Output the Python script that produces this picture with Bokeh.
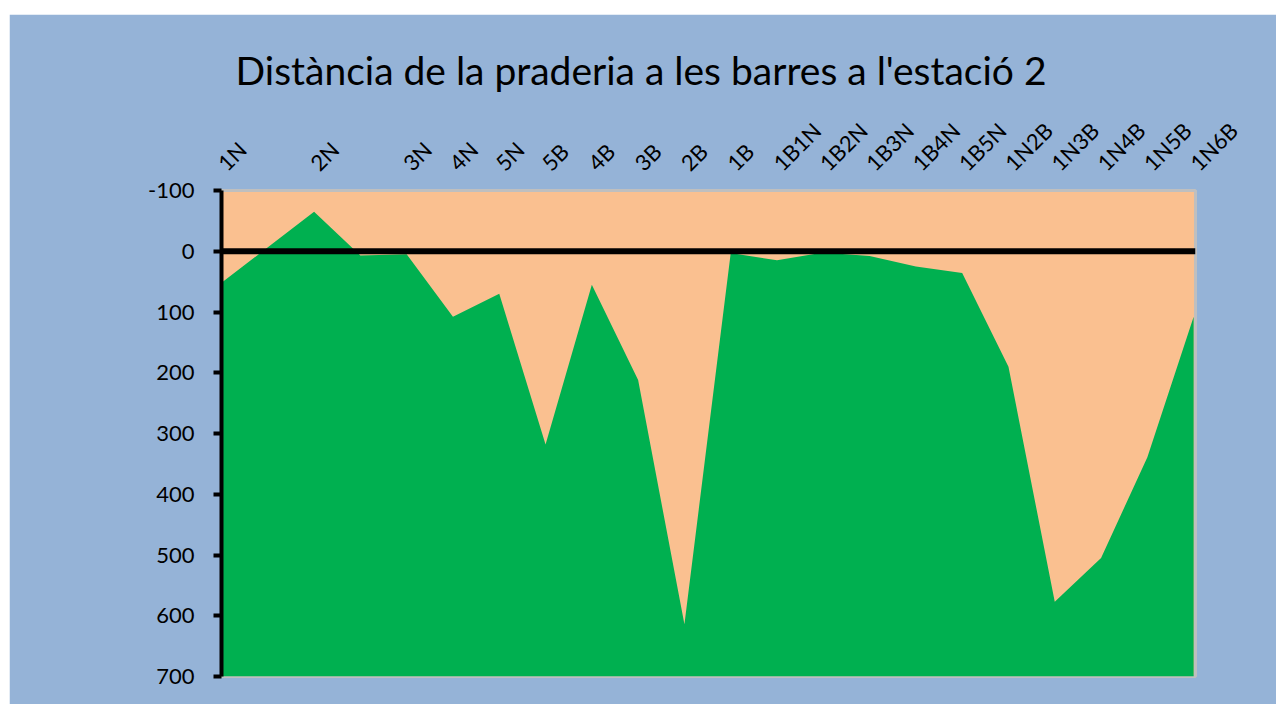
from math import pi
from bokeh.plotting import figure
from bokeh.models import Range1d, FixedTicker, LinearAxis, Span, Spacer
from bokeh.layouts import column, row
from bokeh.embed import file_html
from bokeh.resources import INLINE

# distance along the transect (m) and distance from the meadow to the bars
dist = [0, 20, 30, 40, 50, 60, 70, 80, 90, 100, 110, 120, 130, 140, 150,
        160, 170, 180, 190, 200, 210]
depth = [52, -65, 7, 5, 108, 70, 318, 55, 212, 614, 3, 15, 2, 8, 25,
         36, 190, 577, 505, 339, 108]

tick_pos = [0, 20, 40, 50, 60, 70, 80, 90, 100, 110, 120, 130, 140, 150,
            160, 170, 180, 190, 200, 210]
tick_labels = ["1N", "2N", "3N", "4N", "5N", "5B", "4B", "3B", "2B", "1B",
               "1B1N", "1B2N", "1B3N", "1B4N", "1B5N", "1N2B", "1N3B",
               "1N4B", "1N5B", "1N6B"]
y_ticks = [-100, 0, 100, 200, 300, 400, 500, 600, 700]
y_labels = ["-100", "0", "100", "200", "300", "400", "500", "600", "700"]

FONT = "Lato"

p = figure(frame_width=974, frame_height=486,
           x_range=Range1d(0, 210.4), y_range=Range1d(700, -100),
           x_axis_location=None, y_axis_location=None,
           output_backend="svg", toolbar_location=None,
           min_border_left=212, min_border_right=81,
           min_border_top=176, min_border_bottom=28)

p.border_fill_color = "#95B3D7"
p.background_fill_color = "#FAC090"
p.outline_line_color = "#BFBFBF"
p.outline_line_width = 3
p.grid.visible = False

p.varea(x=dist, y1=depth, y2=700, fill_color="#00B050")

p.add_layout(Span(location=0, dimension="width", line_color="black",
                  line_width=6))

# top axis with station labels
xa = LinearAxis(ticker=FixedTicker(ticks=tick_pos))
xa.major_label_overrides = {t: l for t, l in zip(tick_pos, tick_labels)}
xa.major_label_orientation = pi / 4
xa.axis_line_color = None
xa.major_tick_line_color = None
xa.minor_tick_line_color = None
xa.major_label_standoff = 18
xa.major_label_text_font = FONT
xa.major_label_text_font_size = "22px"
xa.major_label_text_color = "black"
p.add_layout(xa, "above")

ya = LinearAxis(ticker=FixedTicker(ticks=y_ticks))
ya.major_label_overrides = {t: l for t, l in zip(y_ticks, y_labels)}
ya.axis_line_color = "black"
ya.axis_line_width = 4
ya.major_tick_line_color = "black"
ya.major_tick_line_width = 4
ya.major_tick_out = 8
ya.major_tick_in = 0
ya.minor_tick_line_color = None
ya.major_label_standoff = 19
ya.major_label_text_font = FONT
ya.major_label_text_font_size = "22px"
ya.major_label_text_color = "black"
p.add_layout(ya, "left")

p.title.text = "Distància de la praderia a les barres a l'estació 2"
p.title.text_font = FONT
p.title.text_font_size = "39px"
p.title.text_font_style = "normal"
p.title.text_color = "black"
p.title.align = "left"
p.title.offset = 14
p.title.standoff = 24

layout = column(Spacer(height=14), row(Spacer(width=9), p))
open("out.html", "w").write(file_html(layout, INLINE))
